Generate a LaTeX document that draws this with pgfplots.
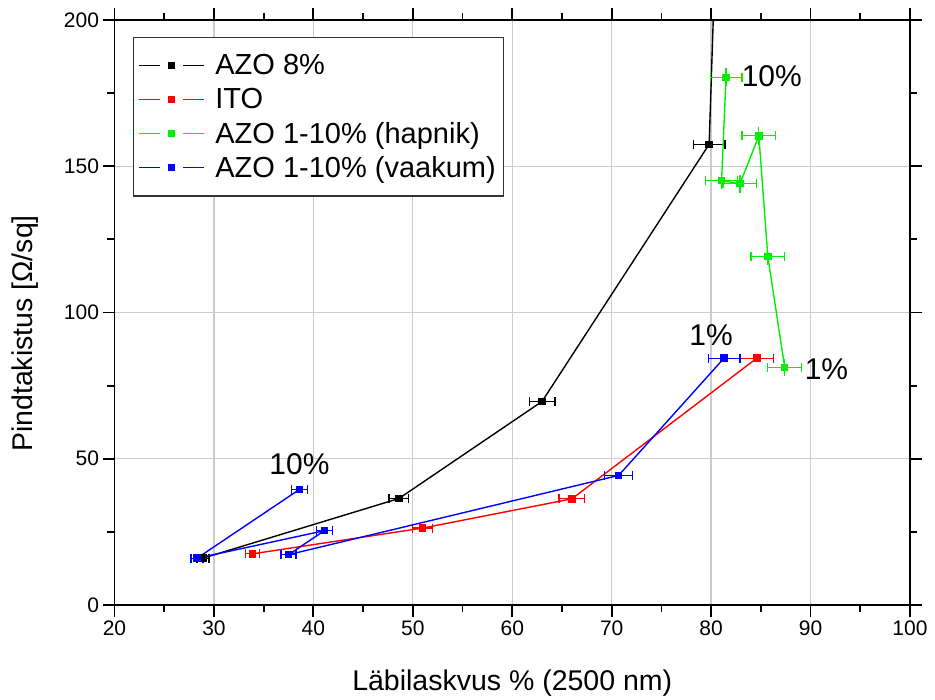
\documentclass[border=0pt]{standalone}
\usepackage{fontspec}
\setmainfont{Liberation Sans}
\usepackage{pgfplots}
\pgfplotsset{compat=1.18}
\pgfplotstableread{
x y ex ey
28.9 16.0 0.6 0
48.6 36.4 1.0 0
63.0 69.6 1.3 0
79.8 157.5 1.6 0
}\tblack
\pgfplotstableread{
x y ex ey
84.6 84.4 1.7 0
66.0 36.3 1.3 0
51.0 26.3 1.0 0
33.9 17.5 0.7 0
}\tred
\pgfplotstableread{
x y ex ey
87.4 81.2 1.7 1.5
85.7 119.2 1.7 1.5
84.8 160.4 1.7 1.5
82.9 144.0 1.7 1.5
81.05 145.1 1.6 1.5
81.5 180.4 1.6 1.5
}\tgreen
\pgfplotstableread{
x y ex ey
81.3 84.4 1.6 0
70.7 44.3 1.4 0
37.5 17.2 0.75 0
41.1 25.4 0.8 0
28.3 16.0 0.6 0
38.6 39.5 0.8 0
}\tblue
\definecolor{mygreen}{RGB}{0,240,0}
\newcommand{\legimg}[1]{%
  \addlegendimage{legend image code/.code={
   \fill[fill=#1, draw=none] (0pt,-0.65pt) rectangle (21pt,0.65pt);
   \fill[fill=#1, draw=none] (44pt,-0.65pt) rectangle (65pt,0.65pt);
   \fill[fill=#1, draw=none] (28.5pt,-3.5pt) rectangle (35.5pt,3.5pt);
   \path[draw=none] (0pt,0pt)--(74pt,0pt);
  }}}
\pgfplotsset{
  errx/.style={error bars/.cd, x dir=both, x explicit, error mark=|,
    error bar style={draw=#1, line width=1.2pt},
    error mark options={draw=#1, line width=1.2pt, mark size=4.5pt}},
  erry/.style={error bars/.cd, y dir=both, y explicit, error mark=-,
    error bar style={draw=#1, line width=1.2pt},
    error mark options={draw=#1, line width=1.2pt, mark size=4.5pt}},
}
\begin{document}
\begin{tikzpicture}
\begin{axis}[
 scale only axis, width=795.5pt, height=585pt,
 xmin=20, xmax=100, ymin=0, ymax=200,
 xtick={20,30,...,100}, ytick={0,50,...,200},
 minor x tick num=1, minor y tick num=1,
 tick align=outside, major tick length=12pt, minor tick length=7pt,
 grid=major, major grid style={line width=1.3pt, color=black!20},
 axis line style={line width=1.8pt},
 every tick/.style={line width=1.8pt, black},
 /pgf/number format/assume math mode=true,
 ticklabel style={font=\fontsize{21}{24}\selectfont},
 xlabel={Läbilaskvus \% (2500 nm)},
 ylabel={Pindtakistus [Ω/sq]},
 label style={font=\fontsize{28.5}{32}\selectfont},
 xlabel style={at={(axis description cs:0.5,-0.1333)}, anchor=center},
 ylabel style={at={(axis description cs:-0.1125,0.464)}, anchor=center, rotate=0},
 legend style={at={(rel axis cs:0.023,0.971)}, anchor=north west,
   font=\fontsize{29}{33}\selectfont, draw=black!80, line width=1.2pt,
   row sep=8pt, inner xsep=6pt, inner ysep=15pt, cells={anchor=west}},
 every axis plot/.append style={line width=1.4pt},
]
\legimg{black}\addlegendentry{AZO 8\%}
\legimg{red}\addlegendentry{ITO}
\legimg{mygreen}\addlegendentry{AZO 1-10\% (hapnik)}
\legimg{blue}\addlegendentry{AZO 1-10\% (vaakum)}

\addplot[black, no marks, forget plot] coordinates {(79.8,157.5) (80.6,240)};
\addplot[black, mark=square*, mark size=3pt, forget plot, errx=black]
  table[x=x, y=y, x error=ex] {\tblack};
\addplot[red, mark=square*, mark size=3pt, forget plot, errx=red]
  table[x=x, y=y, x error=ex] {\tred};
\addplot[mygreen, only marks, mark=none, forget plot, erry=mygreen]
  table[x=x, y=y, y error=ey] {\tgreen};
\addplot[mygreen, mark=square*, mark size=3pt, forget plot, errx=mygreen]
  table[x=x, y=y, x error=ex] {\tgreen};
\addplot[blue, mark=square*, mark size=3pt, forget plot, errx=blue]
  table[x=x, y=y, x error=ex] {\tblue};

\node[font=\fontsize{30}{33}\selectfont] at (axis cs:38.6,48) {10\%};
\node[font=\fontsize{30}{33}\selectfont] at (axis cs:80.0,92.3) {1\%};
\node[font=\fontsize{30}{33}\selectfont] at (axis cs:91.6,80.6) {1\%};
\node[font=\fontsize{30}{33}\selectfont] at (axis cs:86.1,180.8) {10\%};
\end{axis}
\path ([xshift=-114.5pt,yshift=-93pt]current axis.south west) rectangle ([xshift=25pt,yshift=20pt]current axis.north east);
\end{tikzpicture}
\end{document}
